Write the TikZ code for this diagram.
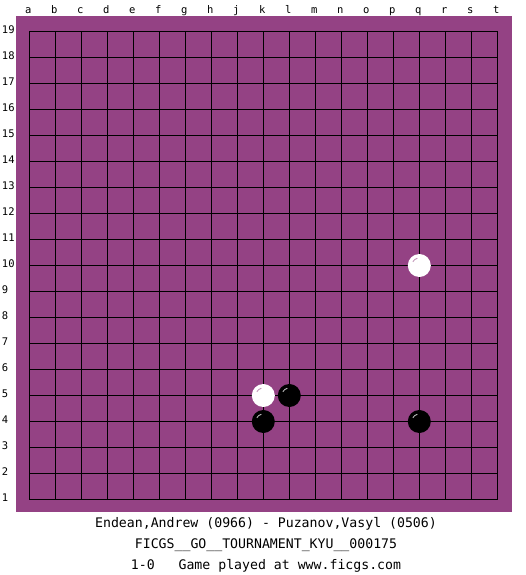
\documentclass[tikz,border=0pt]{standalone}
\usepackage{fontspec}
\setmonofont{DejaVu Sans Mono}
\definecolor{board}{RGB}{148,66,132}
\definecolor{shine}{RGB}{200,200,200}

\tikzset{
	gridline/.style={
		draw=black,
		line width=1pt,
	},
	coordlabel/.style={
		font=\fontsize{10.5}{11}\ttfamily,
		inner sep=0pt,
	},
	stone/.style={
		circle,
		minimum size=23pt,
		inner sep=0pt,
	},
	black stone/.style={
		stone,
		fill=black,
		path picture={
			\draw[shine, line width=0.8pt]
				([shift={(150:7.5pt)}]path picture bounding box.center)
				arc[start angle=150, end angle=105, radius=7.5pt];
		},
	},
	white stone/.style={
		stone,
		fill=white,
		path picture={
			\draw[board!60, line width=0.8pt]
				([shift={(150:7.5pt)}]path picture bounding box.center)
				arc[start angle=150, end angle=105, radius=7.5pt];
		},
	},
	caption/.style={
		font=\fontsize{13.2}{14}\ttfamily,
		inner sep=0pt,
	},
}

\begin{document}
\begin{tikzpicture}[x=1pt, y=-1pt]
\useasboundingbox[fill=white] (0,0) rectangle (525,575);
\fill[board] (16,16) rectangle (512,512);
\begin{scope}[shift={(29.3,499.5)}, x=26pt, y=26pt]
	\foreach \i in {0,...,18}{
		\draw[gridline] (\i,0) -- (\i,18);
		\draw[gridline] (0,\i) -- (18,\i);
	}
	\foreach \c [count=\i from 0] in {a,b,c,d,e,f,g,h,j,k,l,m,n,o,p,q,r,s,t}{
		\node[coordlabel, anchor=base] (col-\c) at (\i-0.04,18.7) {\c};
	}
	\foreach \r in {1,...,19}{
		\node[coordlabel, anchor=base west] (row-\r) at (-1.06,\r-1.06) {\r};
	}
	\node[white stone] (q10) at (15,9) {};
	\node[white stone] (k5) at (9,4) {};
	\node[black stone] (l5) at (10,4) {};
	\node[black stone] (k4) at (9,3) {};
	\node[black stone] (q4) at (15,3) {};
\end{scope}
\node[caption] (players) at (266,524) {Endean,Andrew (0966) - Puzanov,Vasyl (0506)};
\node[caption] (event) at (266,545.5) {FICGS\_\_GO\_\_TOURNAMENT\_KYU\_\_000175};
\node[caption] (result) at (266,566) {1-0\ \ \ Game played at www.ficgs.com};
\end{tikzpicture}
\end{document}
